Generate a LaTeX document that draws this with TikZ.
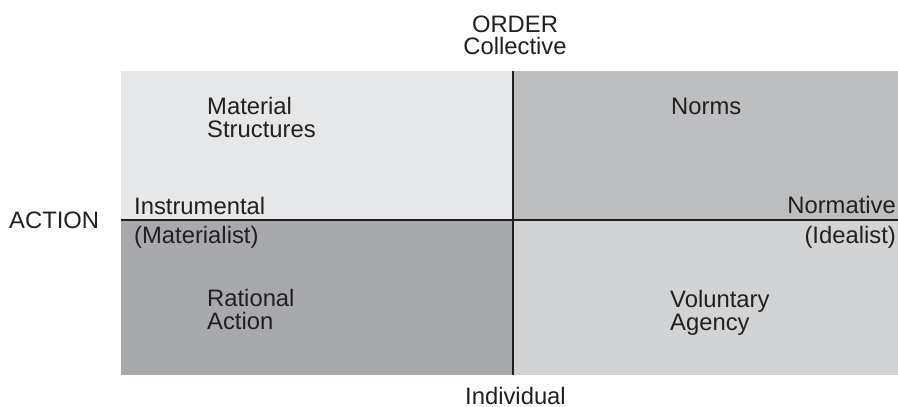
\documentclass[tikz,border=0pt]{standalone}
\usepackage{fontspec}
\setmainfont{Liberation Sans}
\definecolor{qTL}{HTML}{E6E7E8}
\definecolor{qTR}{HTML}{BCBEC0}
\definecolor{qBL}{HTML}{A7A9AC}
\definecolor{qBR}{HTML}{D1D3D4}
\definecolor{ink}{HTML}{231F20}
\begin{document}
\begin{tikzpicture}[x=1pt,y=-1pt,
  lbl/.style={inner sep=0pt,text=ink,font=\fontsize{23.8}{23}\selectfont},
  axis/.style={draw=ink,line width=2.6pt}]
\useasboundingbox (0,0) rectangle (898,407);
% quadrants
\fill[qTL] (121,71) rectangle (513,220);
\fill[qTR] (513,71) rectangle (898,220);
\fill[qBL] (121,220) rectangle (513,375);
\fill[qBR] (513,220) rectangle (898,375);
\coordinate (vt) at (513,71);
\coordinate (vb) at (513,375);
\coordinate (hl) at (121,220);
\coordinate (hr) at (898,220);
\draw[axis] (hl) -- (hr);
\draw[axis] (vt) -- (vb);
% labels
\node[lbl,anchor=base] (order) at (515,32) {ORDER};
\node[lbl,anchor=base] (coll) at (515,54) {Collective};
\node[lbl,anchor=base] (indiv) at (515.5,404) {Individual};
\node[lbl,anchor=base west] (action) at (9,228) {ACTION};
\node[lbl,anchor=base west] (instr) at (134,214) {Instrumental};
\node[lbl,anchor=base west] (mater) at (134,243) {(Materialist)};
\node[lbl,anchor=base east] (normv) at (896,213) {Normative};
\node[lbl,anchor=base east] (ideal) at (896,243) {(Idealist)};
\node[lbl,anchor=base west,align=left] (ms) at (207,137) {Material\\Structures};
\node[lbl,anchor=base west] (norms) at (671,114) {Norms};
\node[lbl,anchor=base west,align=left] (ra) at (207,329) {Rational\\Action};
\node[lbl,anchor=base west,align=left] (va) at (670,330) {Voluntary\\Agency};
\end{tikzpicture}
\end{document}
